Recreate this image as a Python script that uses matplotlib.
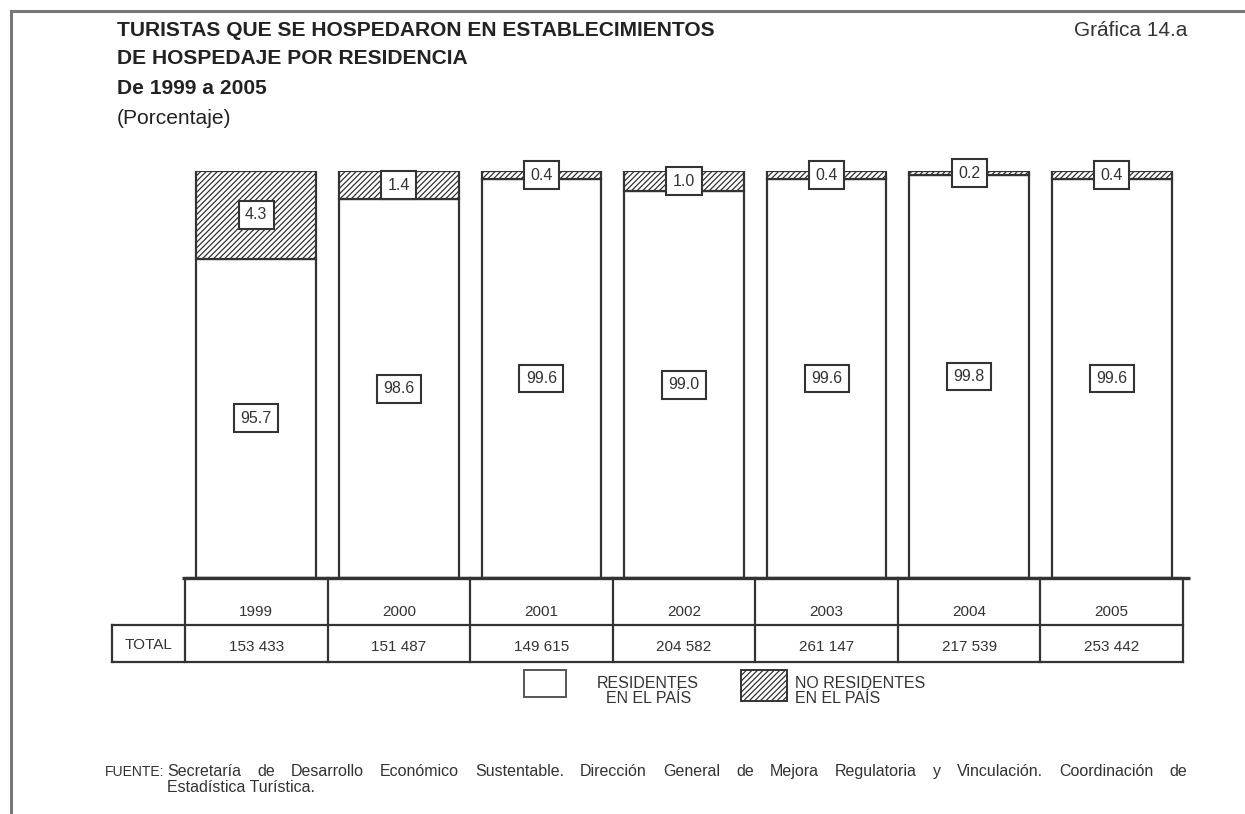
import numpy as np
import matplotlib
matplotlib.use("Agg")
import matplotlib.pyplot as plt
from matplotlib.patches import Rectangle

plt.rcParams['font.family'] = ['Liberation Sans', 'DejaVu Sans']
plt.rcParams['hatch.linewidth'] = 0.9

years = ['1999', '2000', '2001', '2002', '2003', '2004', '2005']
residentes = [95.7, 98.6, 99.6, 99.0, 99.6, 99.8, 99.6]
no_residentes = [4.3, 1.4, 0.4, 1.0, 0.4, 0.2, 0.4]
totales = ['153 433', '151 487', '149 615', '204 582', '261 147', '217 539', '253 442']

fuente = ('Secretaría de Desarrollo Económico Sustentable. Dirección General de '
          'Mejora Regulatoria y Vinculación. Coordinación de')

EDGE = '#333333'
TXT = '#333333'


# the original stretches the top few percent so the small segments are visible
def fwd(y):
    y = np.asarray(y, dtype=float)
    return np.where(y <= 95, y * 75 / 95, 75 + (y - 95) * 5)


def inv(p):
    p = np.asarray(p, dtype=float)
    return np.where(p <= 75, p * 95 / 75, 95 + (p - 75) / 5)


W, H = 1245, 814
fig = plt.figure(figsize=(W / 100, H / 100), dpi=100)


def fx(px):
    return px / W


def fy(py):
    return 1 - py / H


# frame lines (top and left)
fig.add_artist(plt.Line2D([fx(11), 1], [fy(11), fy(11)], color='#777777', lw=2.2))
fig.add_artist(plt.Line2D([fx(11), fx(11)], [fy(11), 0], color='#777777', lw=2.2))

# titles
tk = dict(fontsize=15.1, color='#222222', va='center', ha='left')
fig.text(fx(117), fy(30), 'TURISTAS QUE SE HOSPEDARON EN ESTABLECIMIENTOS', fontweight='bold', **tk)
fig.text(fx(117), fy(59), 'DE HOSPEDAJE POR RESIDENCIA', fontweight='bold', **tk)
fig.text(fx(117), fy(88), 'De 1999 a 2005', fontweight='bold', **tk)
fig.text(fx(117), fy(118), '(Porcentaje)', **tk)
fig.text(fx(1187), fy(30), 'Gráfica 14.a', fontsize=15, color='#333333', va='center', ha='right')

# bars
ax = fig.add_axes([fx(185), fy(578), fx(1183) - fx(185), fy(171) - fy(578)])
ax.set_yscale('function', functions=(fwd, inv))
x = np.arange(len(years))
ax.bar(x, residentes, width=0.84, color='white', edgecolor=EDGE, linewidth=1.6)
ax.bar(x, no_residentes, bottom=residentes, width=0.84, color='white', edgecolor=EDGE,
       linewidth=1.6, hatch='//////')
ax.set_xlim(-0.5, 6.5)
ax.set_ylim(0, 100)
ax.axis('off')
ax.plot([-0.52, 6.55], [0, 0], color=EDGE, lw=2.4, clip_on=False, solid_capstyle='butt')

box = dict(boxstyle='square,pad=0.4', fc='white', ec=EDGE, lw=1.5)
for i in range(len(years)):
    r = residentes[i]
    n = no_residentes[i]
    y_r = inv(fwd(0) / 2 + fwd(r) / 2)
    y_n = inv(fwd(r) / 2 + fwd(r + n) / 2)
    ax.text(x[i], y_r, f'{r:.1f}', ha='center', va='center', fontsize=11.5,
            color=TXT, bbox=box, clip_on=False)
    ax.text(x[i], y_n, f'{n:.1f}', ha='center', va='center', fontsize=11.5,
            color=TXT, bbox=box, clip_on=False)

# table under the bars
tax = fig.add_axes([fx(185), fy(662), fx(1183) - fx(185), fy(578) - fy(662)])
tax.set_xlim(-0.5, 6.5)
tax.set_ylim(0, 84)
tax.axis('off')
lk = dict(color=EDGE, lw=1.6, clip_on=False)
tax.plot([-0.5, -0.5, 6.5, 6.5], [0, 84, 84, 0], **lk)
tax.plot([-1.01, 6.5], [37, 37], **lk)
tax.plot([-1.01, 6.5], [0, 0], **lk)
tax.plot([-1.01, -1.01], [0, 37], **lk)
for i in range(1, len(years)):
    tax.plot([i - 0.5, i - 0.5], [0, 84], **lk)
for i in range(len(years)):
    tax.text(x[i], 50, years[i], ha='center', va='center', fontsize=11, color=TXT)
    tax.text(x[i], 15, totales[i], ha='center', va='center', fontsize=11, color=TXT)
tax.text(-0.755, 17, 'TOTAL', ha='center', va='center', fontsize=11, color=TXT)

# legend
fig.add_artist(Rectangle((fx(524), fy(697)), fx(566) - fx(524), fy(670) - fy(697),
                         fc='white', ec='#555555', lw=1.4, transform=fig.transFigure))
fig.add_artist(Rectangle((fx(741), fy(701)), fx(787) - fx(741), fy(670) - fy(701),
                         fc='white', ec=EDGE, lw=1.4, hatch='//////', transform=fig.transFigure))
fig.text(fx(597), fy(691), 'RESIDENTES\n  EN EL PAÍS', fontsize=11.5, color=TXT,
         va='center', ha='left', linespacing=1.0)
fig.text(fx(795), fy(691), 'NO RESIDENTES\nEN EL PAÍS', fontsize=11.5, color=TXT,
         va='center', ha='left', linespacing=1.0)

# source note, first line justified between x=167 and x=1187
fk = dict(fontsize=11.5, color=TXT, va='baseline', ha='left')
fig.text(fx(105), fy(776), 'FUENTE:', fontsize=10, color=TXT, va='baseline', ha='left')
renderer = fig.canvas.get_renderer()
words = fuente.split()
arts = [fig.text(0, fy(776), w, **fk) for w in words]
widths = [a.get_window_extent(renderer).width for a in arts]
gap = (1187 - 167 - sum(widths)) / (len(words) - 1)
pos = 167
for a, w in zip(arts, widths):
    a.set_x(fx(pos))
    pos += w + gap
fig.text(fx(167), fy(792), 'Estadística Turística.', **fk)

fig.savefig('out.png', dpi=100, facecolor='white')
